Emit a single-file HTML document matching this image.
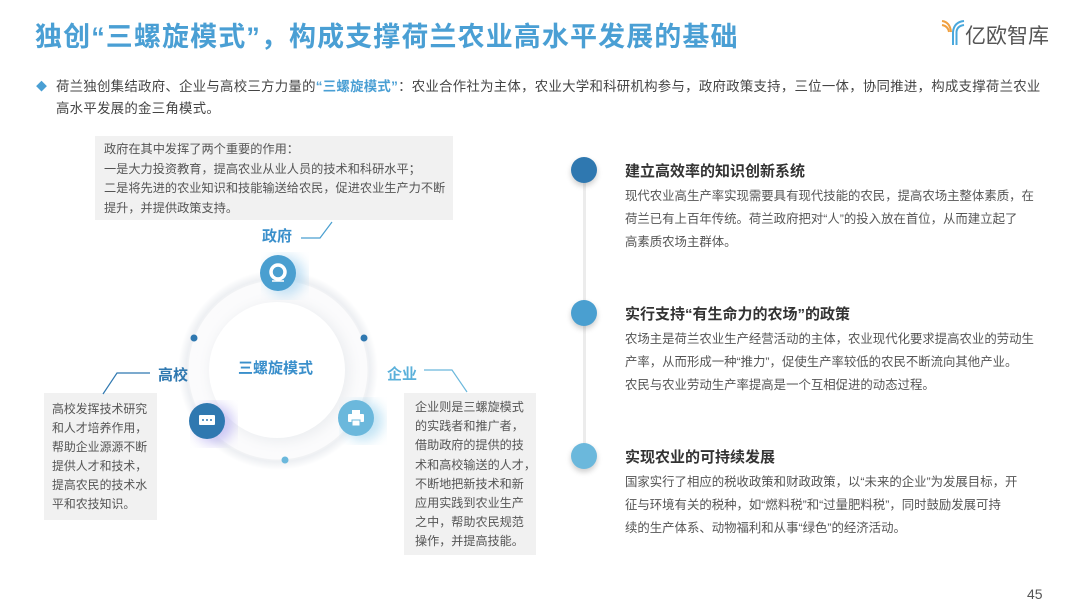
<!DOCTYPE html>
<html><head><meta charset="utf-8"><style>
body{margin:0;width:1080px;height:607px;position:relative;background:#fff;overflow:hidden;font-family:"Liberation Sans","Noto Sans CJK SC",sans-serif;}
.a{position:absolute;white-space:nowrap;}
.box{position:absolute;background:#f1f1f1;color:#555;}
.h{font-weight:bold;color:#333;font-size:15px;}
.b{color:#555;font-size:12.4px;line-height:23px;}
.dot{position:absolute;border-radius:50%;}
</style></head><body>
<div class="a" style="left:35px;top:15px;font-size:27px;font-weight:bold;color:#4a9fd4;letter-spacing:1.1px;">独创“三螺旋模式”，构成支撑荷兰农业高水平发展的基础</div>
<div class="a" style="left:940px;top:18px;">
<svg width="26" height="28" viewBox="0 0 26 28"><path d="M2 3 Q10 4 11 14" stroke="#f0a040" stroke-width="2" fill="none"/><path d="M2 7 Q8 8 9 14" stroke="#f0a040" stroke-width="2" fill="none"/><path d="M24 3 Q14 4 13 14 L13 27" stroke="#4aa8dc" stroke-width="2" fill="none"/><path d="M24 7 Q17 8 16.5 14 L16.5 27" stroke="#4aa8dc" stroke-width="2" fill="none"/></svg></div>
<div class="a" style="left:965px;top:20px;font-size:21px;color:#555;">亿欧智库</div>
<div class="a" style="left:36px;top:78px;color:#4a9fd4;font-size:11px;">◆</div>
<div class="a" style="left:56px;top:76px;font-size:13.4px;line-height:22px;color:#444;letter-spacing:0.28px;">荷兰独创集结政府、企业与高校三方力量的<b style="color:#4a9fd4">“三螺旋模式”</b>：农业合作社为主体，农业大学和科研机构参与，政府政策支持，三位一体，协同推进，构成支撑荷兰农业<br>高水平发展的金三角模式。</div>
<div class="box" style="left:95px;top:136px;width:358px;height:84px;"></div>
<div class="a" style="left:104px;top:140px;font-size:12.2px;line-height:19.6px;color:#555;">政府在其中发挥了两个重要的作用：<br>一是大力投资教育，提高农业从业人员的技术和科研水平；<br>二是将先进的农业知识和技能输送给农民，促进农业生产力不断<br>提升，并提供政策支持。</div>
<div class="box" style="left:44px;top:393px;width:113px;height:127px;"></div>
<div class="a" style="left:52px;top:400px;font-size:11.9px;line-height:19px;color:#555;">高校发挥技术研究<br>和人才培养作用，<br>帮助企业源源不断<br>提供人才和技术，<br>提高农民的技术水<br>平和农技知识。</div>
<div class="box" style="left:404px;top:393px;width:132px;height:162px;"></div>
<div class="a" style="left:415px;top:398px;font-size:12.1px;line-height:19.2px;color:#555;">企业则是三螺旋模式<br>的实践者和推广者，<br>借助政府的提供的技<br>术和高校输送的人才，<br>不断地把新技术和新<br>应用实践到农业生产<br>之中，帮助农民规范<br>操作，并提高技能。</div>
<svg class="a" style="left:0;top:0" width="560" height="607">
<defs><radialGradient id="g"><stop offset="0.75" stop-color="#fff"/><stop offset="0.92" stop-color="#eef0f3"/><stop offset="1" stop-color="#fff"/></radialGradient>
<filter id="s"><feGaussianBlur stdDeviation="6"/></filter></defs>
<circle cx="278" cy="370" r="100" fill="url(#g)"/>
<circle cx="278" cy="370" r="90" fill="#fbfbfc" stroke="#f1f2f4" stroke-width="1"/>
<circle cx="280" cy="372" r="70" fill="#eceef1" filter="url(#s)"/>
<circle cx="277" cy="370" r="68" fill="#fff"/>
<circle cx="285" cy="276" r="20" fill="#a8d4f0" filter="url(#s)" opacity=".7"/>
<circle cx="214" cy="424" r="20" fill="#b8b0f0" filter="url(#s)" opacity=".7"/>
<circle cx="363" cy="421" r="20" fill="#a8d8f0" filter="url(#s)" opacity=".7"/>
<circle cx="278" cy="273" r="18" fill="#4a9fd0"/>
<circle cx="278" cy="272" r="7" fill="none" stroke="#fff" stroke-width="3.5"/>
<line x1="272" y1="281" x2="284" y2="281" stroke="#fff" stroke-width="1.5"/>
<circle cx="207" cy="421" r="18" fill="#2f78b0"/>
<rect x="199" y="415" width="16" height="10" rx="1" fill="#fff"/><circle cx="203" cy="420" r="1" fill="#2f78b0"/><circle cx="207" cy="420" r="1" fill="#2f78b0"/><circle cx="211" cy="420" r="1" fill="#2f78b0"/>
<circle cx="356" cy="418" r="18" fill="#6bb8dc"/>
<rect x="352" y="410" width="8" height="5" fill="#fff"/><rect x="348" y="414" width="16" height="8" rx="1" fill="#fff"/><rect x="352" y="420" width="8" height="6" fill="#fff" stroke="#6bb8dc"/>
<circle cx="194" cy="338" r="3.5" fill="#2f78b0"/>
<circle cx="364" cy="338" r="3.5" fill="#2f78b0"/>
<circle cx="285" cy="460" r="3.5" fill="#6bb8dc"/>
<polyline points="301,238 320,238 332,222" fill="none" stroke="#4a9fd0" stroke-width="1.2"/>
<polyline points="150,373 117,373 103,394" fill="none" stroke="#2f78b0" stroke-width="1.2"/>
<polyline points="424,370 452,370 467,392" fill="none" stroke="#6bb8dc" stroke-width="1.2"/>
</svg>
<div class="a" style="left:262px;top:225px;font-size:15px;font-weight:bold;color:#3a8fcb;">政府</div>
<div class="a" style="left:158px;top:364px;font-size:15px;font-weight:bold;color:#2f78b0;">高校</div>
<div class="a" style="left:387px;top:363px;font-size:15px;font-weight:bold;color:#5ab0da;">企业</div>
<div class="a" style="left:238px;top:357px;font-size:15px;font-weight:bold;color:#3a8fcb;">三螺旋模式</div>
<div style="position:absolute;left:583px;top:170px;width:3px;height:286px;background:#ececec;"></div>
<div class="dot" style="left:571px;top:157px;width:26px;height:26px;background:#2f78b0;box-shadow:0 3px 6px rgba(0,0,0,.2)"></div>
<div class="dot" style="left:571px;top:300px;width:26px;height:26px;background:#4a9fd0;box-shadow:0 3px 6px rgba(0,0,0,.2)"></div>
<div class="dot" style="left:571px;top:443px;width:26px;height:26px;background:#6bb8dc;box-shadow:0 3px 6px rgba(0,0,0,.2)"></div>
<div class="a h" style="left:625px;top:160px;">建立高效率的知识创新系统</div>
<div class="a b" style="left:625px;top:185px;">现代农业高生产率实现需要具有现代技能的农民，提高农场主整体素质，在<br>荷兰已有上百年传统。荷兰政府把对“人”的投入放在首位，从而建立起了<br>高素质农场主群体。</div>
<div class="a h" style="left:625px;top:303px;">实行支持“有生命力的农场”的政策</div>
<div class="a b" style="left:625px;top:328px;">农场主是荷兰农业生产经营活动的主体，农业现代化要求提高农业的劳动生<br>产率，从而形成一种“推力”，促使生产率较低的农民不断流向其他产业。<br>农民与农业劳动生产率提高是一个互相促进的动态过程。</div>
<div class="a h" style="left:625px;top:446px;">实现农业的可持续发展</div>
<div class="a b" style="left:625px;top:471px;">国家实行了相应的税收政策和财政政策，以“未来的企业”为发展目标，开<br>征与环境有关的税种，如“燃料税”和“过量肥料税”，同时鼓励发展可持<br>续的生产体系、动物福利和从事“绿色”的经济活动。</div>
<div class="a" style="left:1027px;top:586px;font-size:14px;color:#555;">45</div>
</body></html>
